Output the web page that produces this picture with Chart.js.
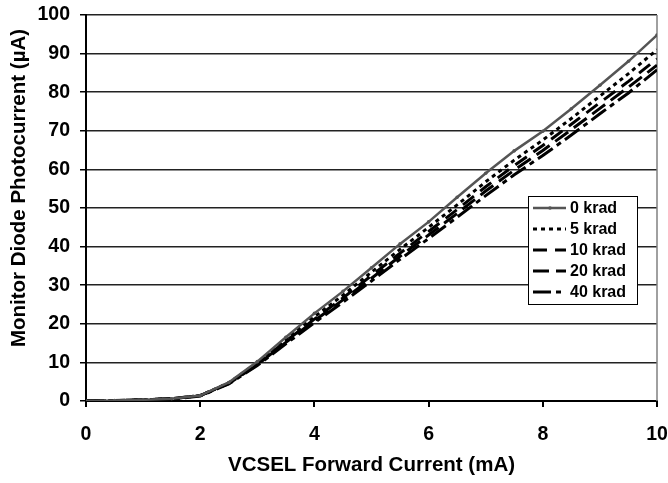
<!DOCTYPE html>
<html>
<head>
<meta charset="utf-8">
<script src="https://cdn.jsdelivr.net/npm/chart.js@4.4.0/dist/chart.umd.min.js"></script>
<style>
  html, body { margin: 0; padding: 0; background: #fff; }
  #wrap { width: 668px; height: 483px; position: relative; }
</style>
</head>
<body>
<div id="wrap"><canvas id="chart" width="668" height="483"></canvas></div>
<script>
// Forward current (mA)
const current = [0, 0.5, 1, 1.5, 2, 2.5, 3, 3.5, 4, 4.5, 5, 5.5, 6, 6.5, 7, 7.5, 8, 8.5, 9, 9.5, 10];

// Monitor photocurrent (uA) per dose
const krad0  = [0, 0.1, 0.3, 0.6, 1.4, 4.8, 10.2, 16.5, 22.7, 28.4, 34.5, 40.7, 46.4, 52.8, 59.0, 64.8, 69.9, 75.7, 81.8, 88.0, 94.8];
const krad5  = [0, 0.1, 0.3, 0.6, 1.4, 4.7, 9.9, 15.9, 21.8, 27.4, 33.4, 39.3, 45.0, 50.8, 56.8, 62.4, 67.6, 73.2, 79.0, 84.8, 91.0];
const krad10 = [0, 0.1, 0.3, 0.6, 1.4, 4.6, 9.6, 15.5, 21.2, 26.7, 32.5, 38.3, 43.9, 49.6, 55.5, 61.0, 66.2, 71.7, 77.3, 82.8, 88.6];
const krad20 = [0, 0.1, 0.3, 0.6, 1.4, 4.5, 9.4, 15.2, 20.8, 26.2, 31.8, 37.5, 43.0, 48.6, 54.4, 59.8, 64.9, 70.3, 75.8, 81.3, 87.0];
const krad40 = [0, 0.1, 0.3, 0.5, 1.3, 4.4, 9.2, 14.8, 20.3, 25.6, 31.1, 36.7, 42.1, 47.6, 53.2, 58.6, 63.6, 68.9, 74.4, 79.8, 85.8];

const seriesLabels = ['0 krad', '5 krad', '10 krad', '20 krad', '40 krad'];
const xTicks = [0, 2, 4, 6, 8, 10];
const yTicks = [0, 10, 20, 30, 40, 50, 60, 70, 80, 90, 100];
const yTitle = 'Monitor Diode Photocurrent (µA)';

const toPoints = arr => arr.map((v, i) => ({ x: current[i], y: v }));

const FONT = '"Liberation Sans", Arial, sans-serif';

// legend drawn inside the plot, Excel style
const boxLegend = {
  id: 'boxLegend',
  afterDraw(chart) {
    const ctx = chart.ctx;
    const left = 528, top = 196, w = 109, rowH = 21;
    const h = rowH * chart.data.datasets.length + 3;
    ctx.save();
    ctx.fillStyle = '#fff';
    ctx.fillRect(left, top, w, h);
    ctx.strokeStyle = '#000';
    ctx.lineWidth = 1;
    ctx.strokeRect(left + 0.5, top + 0.5, w, h);
    chart.data.datasets.forEach((ds, i) => {
      const y = top + 12 + i * rowH;
      ctx.beginPath();
      ctx.setLineDash(ds.borderDash || []);
      ctx.strokeStyle = ds.borderColor;
      ctx.lineWidth = ds.borderWidth;
      ctx.moveTo(left + 5, y);
      ctx.lineTo(left + 38, y);
      ctx.stroke();
      ctx.setLineDash([]);
      if (ds.pointRadius > 0) {
        ctx.fillStyle = ds.borderColor;
        ctx.beginPath();
        ctx.arc(left + 22, y, ds.pointRadius, 0, Math.PI * 2);
        ctx.fill();
      }
      ctx.fillStyle = '#000';
      ctx.font = 'bold 16px ' + FONT;
      ctx.textBaseline = 'middle';
      ctx.textAlign = 'left';
      ctx.fillText(ds.label, left + 42, y + 1);
    });
    ctx.restore();
  }
};

// grey right border of plot area + y title (sits a bit above centre in the original)
const extras = {
  id: 'extras',
  beforeDatasetsDraw(chart) {
    const { ctx, chartArea } = chart;
    ctx.save();
    ctx.strokeStyle = '#808080';
    ctx.lineWidth = 1.5;
    ctx.beginPath();
    ctx.moveTo(chartArea.right, chartArea.top);
    ctx.lineTo(chartArea.right, chartArea.bottom);
    ctx.stroke();
    ctx.restore();
  },
  afterDraw(chart) {
    const ctx = chart.ctx;
    ctx.save();
    ctx.translate(19, 188);
    ctx.rotate(-Math.PI / 2);
    ctx.fillStyle = '#000';
    ctx.font = 'bold 20.5px ' + FONT;
    ctx.textAlign = 'center';
    ctx.textBaseline = 'middle';
    ctx.fillText(yTitle, 0, 0);
    ctx.restore();
  }
};

new Chart(document.getElementById('chart'), {
  type: 'line',
  data: {
    datasets: [
      { label: seriesLabels[0], data: toPoints(krad0), borderColor: '#555555', backgroundColor: '#555555', borderWidth: 2.5, pointRadius: 1.8, pointBorderWidth: 0 },
      { label: seriesLabels[1], data: toPoints(krad5), borderColor: '#000', borderWidth: 3, borderDash: [4, 4], pointRadius: 0 },
      { label: seriesLabels[2], data: toPoints(krad10), borderColor: '#000', borderWidth: 3, borderDash: [14, 8], pointRadius: 0 },
      { label: seriesLabels[3], data: toPoints(krad20), borderColor: '#000', borderWidth: 3, borderDash: [16, 7], pointRadius: 0 },
      { label: seriesLabels[4], data: toPoints(krad40), borderColor: '#000', borderWidth: 3, borderDash: [18, 5, 5, 5], pointRadius: 0 }
    ]
  },
  options: {
    responsive: false,
    animation: false,
    layout: { padding: { left: 0, right: 11, top: 15, bottom: 0 } },
    elements: { line: { tension: 0 } },
    plugins: {
      legend: { display: false },
      tooltip: { enabled: false }
    },
    scales: {
      x: {
        type: 'linear',
        min: 0, max: 10,
        afterBuildTicks: s => { s.ticks = xTicks.map(v => ({ value: v })); },
        afterFit: s => { s.height = 82; s.paddingLeft = 0; s.paddingRight = 0; },
        grid: { drawOnChartArea: false, drawTicks: true, tickLength: 6, color: '#000', lineWidth: 2 },
        border: { color: '#000', width: 2 },
        ticks: { color: '#000', font: { family: FONT, size: 19.5, weight: 'bold' }, padding: 16, maxRotation: 0 },
        title: { display: true, text: 'VCSEL Forward Current (mA)', color: '#000', font: { family: FONT, size: 20.5, weight: 'bold' }, padding: { top: 0, bottom: 5 } }
      },
      y: {
        min: 0, max: 100,
        afterBuildTicks: s => { s.ticks = yTicks.map(v => ({ value: v })); },
        afterFit: s => { s.width = 86; s.paddingTop = 0; s.paddingBottom = 0; },
        grid: { color: '#222', lineWidth: 1.5, drawTicks: true, tickLength: 6, tickColor: '#000' },
        border: { color: '#000', width: 2 },
        ticks: { color: '#000', font: { family: FONT, size: 19.5, weight: 'bold' }, padding: 10 }
      }
    }
  },
  plugins: [extras, boxLegend]
});
</script>
</body>
</html>
